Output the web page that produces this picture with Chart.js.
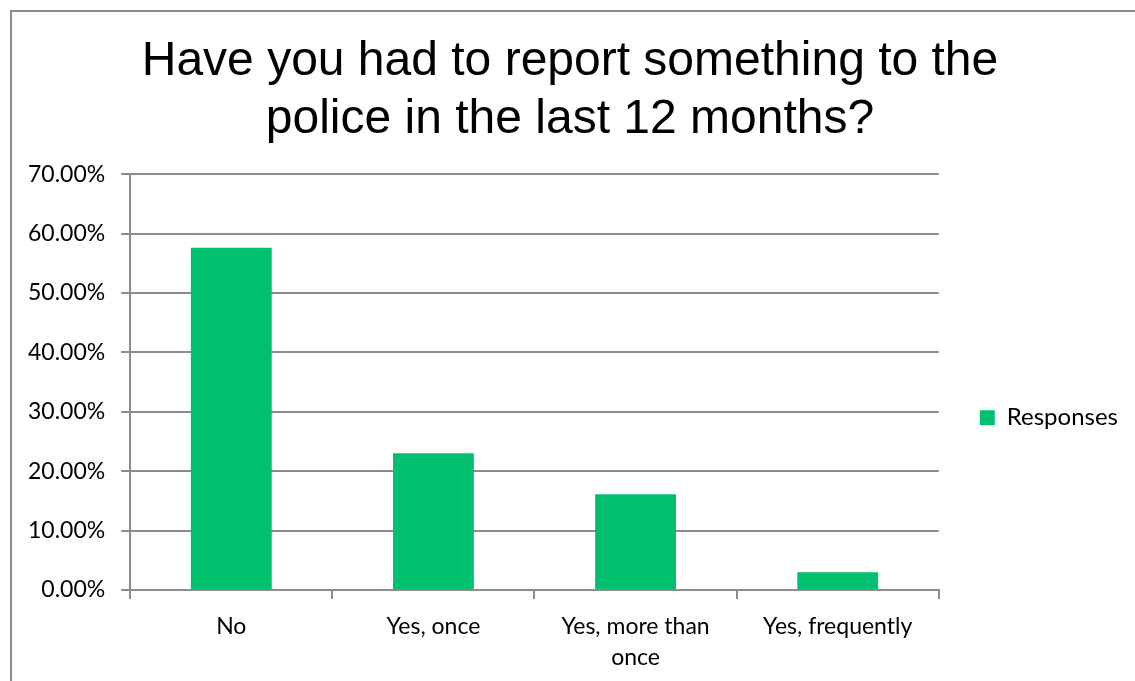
<!DOCTYPE html>
<html>
<head>
<meta charset="utf-8">
<script src="https://cdn.jsdelivr.net/npm/chart.js@4"></script>
<style>
  body { margin: 0; background: #fff; }
  #frame { position: absolute; left: 10px; top: 10px; width: 1300px; height: 800px;
           border-left: 2px solid #8c8c8c; border-top: 2px solid #8c8c8c; }
  #c { position: absolute; left: 0; top: 0; }
</style>
</head>
<body>
<div id="frame"></div>
<canvas id="c" width="1135" height="681"></canvas>
<script>
const categories = ["No", ["Yes, once"], ["Yes, more than", "once"], "Yes, frequently"];
const responses = [57.6, 23.0, 16.1, 3.0];
const titleLines = ["Have you had to report something to the", "police in the last 12 months?"];

const tickFont = { family: "Lato, 'Open Sans', sans-serif", size: 23, lineHeight: 1.35 };
const legendFont = { family: "Lato, 'Open Sans', sans-serif", size: 24 };
const gridColor = "#8c8c8c";

new Chart(document.getElementById("c").getContext("2d"), {
  type: "bar",
  data: {
    labels: categories,
    datasets: [
      {
        label: "Responses",
        data: responses,
        backgroundColor: "#00bf6f",
        categoryPercentage: 1,
        barPercentage: 0.4
      }
    ]
  },
  options: {
    responsive: false,
    animation: false,
    layout: { padding: { left: 12, right: 7, top: 12, bottom: 0 } },
    plugins: {
      title: {
        display: true,
        text: titleLines,
        color: "#000",
        font: { family: "'Liberation Sans', Arial, sans-serif", size: 48, weight: "normal", lineHeight: 1.21 },
        padding: { top: 21, bottom: 25 }
      },
      legend: {
        position: "right",
        title: {
          // empty title only pushes the item down, as in the source
          display: true,
          text: " ",
          font: { size: 12, lineHeight: 1.2 },
          padding: { top: 0, bottom: 128 }
        },
        labels: {
          boxWidth: 15,
          boxHeight: 15,
          padding: 10,
          color: "#000",
          font: legendFont
        }
      },
      tooltip: { enabled: false }
    },
    scales: {
      x: {
        offset: true,
        grid: { offset: true, drawOnChartArea: false, color: gridColor, lineWidth: 2, tickLength: 9 },
        border: { color: gridColor, width: 2 },
        ticks: { color: "#000", font: tickFont, padding: 12, maxRotation: 0 },
        afterFit: s => { s.height = 91; }
      },
      y: {
        min: 0,
        max: 70,
        grid: { color: gridColor, lineWidth: 2, tickLength: 9 },
        border: { color: gridColor, width: 2 },
        ticks: {
          stepSize: 10,
          color: "#000",
          font: { family: tickFont.family, size: 23 },
          padding: 16,
          callback: v => v.toFixed(2) + "%"
        }
      },
      gap: {
        position: "right",
        display: true,
        grid: { display: false, drawTicks: false },
        border: { display: false },
        ticks: { display: false },
        afterFit: s => { s.width = 31; }
      }
    }
  }
});
</script>
</body>
</html>
